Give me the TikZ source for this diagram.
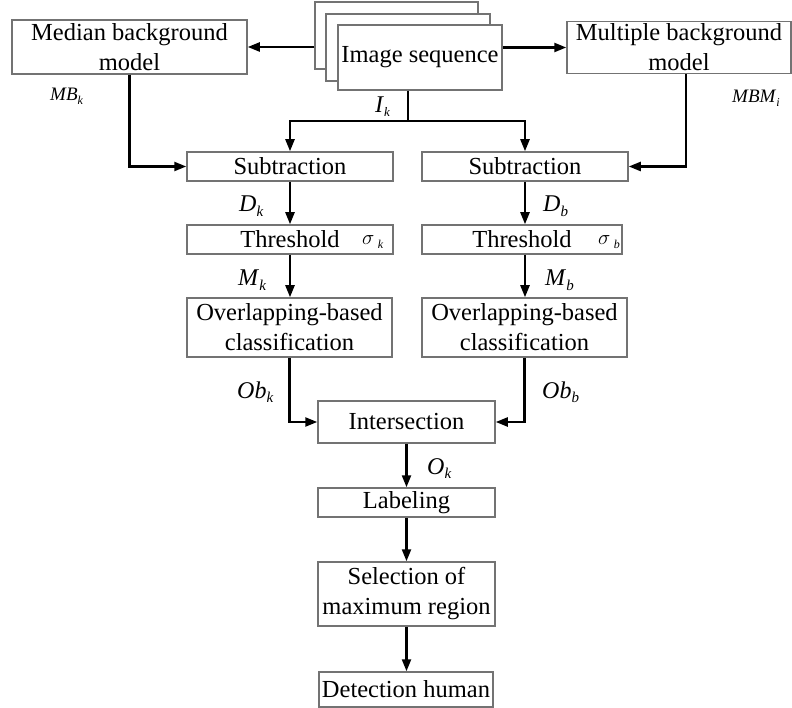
\documentclass[tikz,border=0pt]{standalone}
\usepackage{fontspec}
\setmainfont{Liberation Serif}
\usetikzlibrary{arrows.meta}
\newcommand\labsub[4]{{\fontsize{#3}{#3}\selectfont\textit{#1}}{\fontsize{#4}{#4}\selectfont\raisebox{-0.3em}{\textit{#2}}}}
\begin{document}
\begin{tikzpicture}[x=1pt,y=-1pt,
  box/.style={draw=black!55, line width=1.5pt, fill=white, inner sep=0pt, align=center,
    font=\fontsize{24.5}{30}\selectfont},
  arr/.style={line width=2.3pt, -{Triangle[length=12pt,width=9pt]}},
  ln/.style={line width=2.3pt},
  lab/.style={anchor=base west, inner sep=0pt}]
\useasboundingbox (0,0) rectangle (792,708);
% boxes
\node[box, minimum width=235pt, minimum height=54pt] (median) at (129.5,47) {Median background\\model};
\node[box, minimum width=163pt, minimum height=67pt] (back1) at (396.5,35.5) {};
\node[box, minimum width=164pt, minimum height=67pt] (back2) at (408,47.5) {};
\node[box, minimum width=164pt, minimum height=65pt] (img) at (420,57.5) {Image sequence};
\node[box, minimum width=224pt, minimum height=52pt] (multi) at (679,47.5) {Multiple background\\model};
\node[box, minimum width=206pt, minimum height=29pt] (sub1) at (290,166.5) {Subtraction};
\node[box, minimum width=206pt, minimum height=29pt] (sub2) at (525,166.5) {Subtraction};
\node[box, minimum width=206pt, minimum height=29pt] (thr1) at (290,239.5) {Threshold};
\node[box, minimum width=200pt, minimum height=29pt] (thr2) at (522,239.5) {Threshold};
\node[box, minimum width=205pt, minimum height=59pt] (ov1) at (289.5,327.5) {Overlapping-based\\classification};
\node[box, minimum width=205pt, minimum height=59pt] (ov2) at (524.5,327.5) {Overlapping-based\\classification};
\node[box, minimum width=177pt, minimum height=42pt] (inter) at (406.5,422) {Intersection};
\node[box, minimum width=177pt, minimum height=29pt] (labeling) at (406.5,502.5) {Labeling};
\node[box, minimum width=177pt, minimum height=64pt] (select) at (406.5,594) {Selection of\\maximum region};
\node[box, minimum width=174pt, minimum height=35pt] (detect) at (406,689.5) {Detection human};
% connectors
\coordinate (ik) at (408,121);
\coordinate (mbm) at (686,74);
\draw[arr] (back1.west |- median.east) -- (median.east);
\draw[arr] (img.east |- multi.west) -- (multi.west);
\draw[ln] (img.south -| ik) -- (ik);
\draw[arr] (ik) -| (sub1.north);
\draw[arr] (ik) -| (sub2.north);
\draw[arr] (median.south) |- (sub1.west);
\draw[arr] (mbm) |- (sub2.east);
\draw[arr] (sub1.south) -- (thr1.north);
\draw[arr] (sub2.south) -- (sub2.south |- thr2.north);
\draw[arr] (thr1.south) -- (thr1.south |- ov1.north);
\draw[arr] (sub2.south |- thr2.south) -- (sub2.south |- ov2.north);
\draw[arr] (ov1.south) |- (inter.west);
\draw[arr] (ov2.south) |- (inter.east);
\draw[arr] (inter.south) -- (labeling.north);
\draw[arr] (labeling.south) -- (select.north);
\draw[arr] (select.south) -- (select.south |- detect.north);
% labels
\node[lab] (lmb) at (50,101) {\labsub{MB}{k}{19}{12}};
\node[lab] (lmbm) at (732,103) {\labsub{MBM}{i}{19}{12}};
\node[lab] (lik) at (375,113) {\labsub{I}{k}{24}{13}};
\node[lab] (ldk) at (239,212) {\labsub{D}{k}{24}{15}};
\node[lab] (ldb) at (543,212) {\labsub{D}{b}{24}{15}};
\node[lab] (lmk) at (238,286) {\labsub{M}{k}{24}{15}};
\node[lab] (lmb2) at (545,286) {\labsub{M}{b}{24}{15}};
\node[lab] (lsk) at (362,245) {\labsub{$\sigma$\,}{k}{20}{12}};
\node[lab] (lsb) at (598,245) {\labsub{$\sigma$\,}{b}{20}{12}};
\node[lab] (lobk) at (237,398) {\labsub{Ob}{k}{24}{15}};
\node[lab] (lobb) at (542,398) {\labsub{Ob}{b}{24}{15}};
\node[lab] (lok) at (427,474) {\labsub{O}{k}{24}{15}};
\end{tikzpicture}
\end{document}
